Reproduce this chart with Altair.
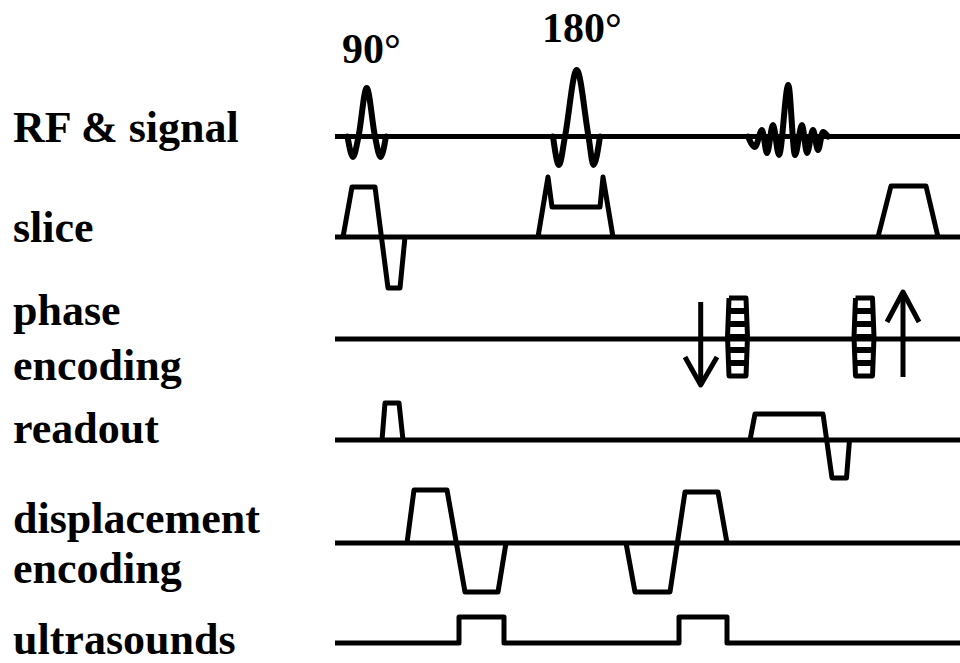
import altair as alt
import pandas as pd

W, H = 960, 663

# ---- rows (channel names and the level of each baseline) ----
row_labels = ["RF & signal", "slice", "phase", "encoding", "readout",
              "displacement", "encoding", "ultrasounds"]
row_label_y = [142, 242, 325, 380, 443, 533, 583, 654]
row_level = [136.5, 237, 339, 440, 543, 643]  # RF, slice, phase, readout, displacement, ultrasounds
baseline_start = 335
baseline_end = 960

# ---- RF & signal (time, amplitude) ----
rf90_t = [347.5, 353, 358.5, 366.7, 375, 380.5, 386]
rf90_a = [0, -20.5, 0, 48.5, 0, -20.5, 0]
rf180_t = [553, 559, 565, 576.7, 588.5, 593.5, 600]
rf180_a = [0, -28.5, 0, 66.5, 0, -28.5, 0]
echo_t = [748, 755, 762, 767, 773, 779, 788.3, 795, 802, 807, 813, 818, 823, 828]
echo_a = [0, -10.5, 6.5, -16.5, 11.5, -18.5, 51.5, -18.5, 11.5, -16.5, 6.5, -13.5, 4.5, 0]

# ---- slice gradient ----
sl1_t = [343, 352, 375, 388, 400, 405]
sl1_a = [0, 50, 50, -51, -51, 0]
sl2_t = [538, 548, 552, 600, 603, 613]
sl2_a = [0, 60, 30, 30, 60, 0]
sl3_t = [878, 891, 926, 938]
sl3_a = [0, 51, 51, 0]

# ---- phase encoding ----
tab_centres = [737.5, 864]
tab_top, tab_bottom, tab_mid = 41, -37, 2
tab_half_edge, tab_half_mid = 8.5, 10
tab_steps = 6
arr_dn_shaft_t, arr_dn_shaft_a = [700.7, 700.7], [37, -46]
arr_dn_head_t, arr_dn_head_a = [685, 700.7, 717], [-18, -46, -18]
arr_up_shaft_t, arr_up_shaft_a = [903, 903], [-38, 47]
arr_up_head_t, arr_up_head_a = [887, 903, 919], [17, 47, 17]

# ---- readout ----
ro1_t = [382, 385, 399, 403]
ro1_a = [0, 37, 37, 0]
ro2_t = [750, 755, 823, 832, 846.5, 849.5]
ro2_a = [0, 26, 26, -38, -38, 0]

# ---- displacement encoding ----
de1_t = [407, 414, 447, 465, 498, 506]
de1_a = [0, 53, 53, -49, -49, 0]
de2_t = [626, 635, 670, 685, 718, 727]
de2_a = [0, -49, -49, 51, 51, 0]

# ---- ultrasounds ----
us_t = [335, 459, 459, 504, 504, 679, 679, 727, 727, 960]
us_a = [0, 0, 26, 26, 0, 0, 26, 26, 0, 0]

# ---- pulse labels ----
flip_labels = ["90°", "180°"]
flip_t = [342, 542]
flip_y = [63, 42]

# ---------------------------------------------------------------
def seg_rows(name, row, ts, amps):
    lvl = row_level[row]
    return [{"seg": name, "i": k, "t": t, "y": lvl - a}
            for k, (t, a) in enumerate(zip(ts, amps))]

curvy = []
curvy += seg_rows("rf90", 0, rf90_t, rf90_a)
curvy += seg_rows("rf180", 0, rf180_t, rf180_a)
curvy += seg_rows("echo", 0, echo_t, echo_a)

straight = []
straight += seg_rows("sl1", 1, sl1_t, sl1_a)
straight += seg_rows("sl2", 1, sl2_t, sl2_a)
straight += seg_rows("sl3", 1, sl3_t, sl3_a)
straight += seg_rows("ro1", 3, ro1_t, ro1_a)
straight += seg_rows("ro2", 3, ro2_t, ro2_a)
straight += seg_rows("de1", 4, de1_t, de1_a)
straight += seg_rows("de2", 4, de2_t, de2_a)
straight += seg_rows("us", 5, us_t, us_a)
straight += seg_rows("adn_s", 2, arr_dn_shaft_t, arr_dn_shaft_a)
straight += seg_rows("adn_h", 2, arr_dn_head_t, arr_dn_head_a)
straight += seg_rows("aup_s", 2, arr_up_shaft_t, arr_up_shaft_a)
straight += seg_rows("aup_h", 2, arr_up_head_t, arr_up_head_a)

rungs = []
for j, c in enumerate(tab_centres):
    ot = [c - tab_half_edge, c + tab_half_edge, c + tab_half_mid, c + tab_half_edge,
          c - tab_half_edge, c - tab_half_mid, c - tab_half_edge]
    oa = [tab_top, tab_top, tab_mid, tab_bottom, tab_bottom, tab_mid, tab_top]
    straight += seg_rows(f"tab{j}", 2, ot, oa)
    for k in range(1, tab_steps):
        a = tab_top + (tab_bottom - tab_top) * k / tab_steps
        if a >= tab_mid:
            f = (tab_top - a) / (tab_top - tab_mid)
        else:
            f = (a - tab_bottom) / (tab_mid - tab_bottom)
        hw = tab_half_edge + (tab_half_mid - tab_half_edge) * f
        rungs.append({"t": c - hw, "t2": c + hw, "y": row_level[2] - a})

base = pd.DataFrame({"t": [baseline_start] * 5, "t2": [baseline_end] * 5,
                     "y": row_level[:5]})

xs = alt.Scale(domain=[0, W])
ys = alt.Scale(domain=[0, H], reverse=True)

lines_curvy = alt.Chart(pd.DataFrame(curvy)).mark_line(
    color="black", strokeWidth=6, interpolate="monotone",
    strokeJoin="round", strokeCap="round"
).encode(
    x=alt.X("t:Q", scale=xs, axis=None),
    y=alt.Y("y:Q", scale=ys, axis=None),
    detail="seg:N", order="i:Q",
)

lines_straight = alt.Chart(pd.DataFrame(straight)).mark_line(
    color="black", strokeWidth=5, strokeJoin="round", strokeCap="butt"
).encode(
    x=alt.X("t:Q", scale=xs, axis=None),
    y=alt.Y("y:Q", scale=ys, axis=None),
    detail="seg:N", order="i:Q",
)

baselines = alt.Chart(base).mark_rule(color="black", strokeWidth=5).encode(
    x=alt.X("t:Q", scale=xs, axis=None), x2="t2:Q",
    y=alt.Y("y:Q", scale=ys, axis=None),
)

rung_layer = alt.Chart(pd.DataFrame(rungs)).mark_rule(color="black", strokeWidth=6).encode(
    x=alt.X("t:Q", scale=xs, axis=None), x2="t2:Q",
    y=alt.Y("y:Q", scale=ys, axis=None),
)

labels_df = pd.DataFrame({"t": [13] * len(row_labels), "y": row_label_y, "text": row_labels})
labels = alt.Chart(labels_df).mark_text(
    font="Liberation Serif", fontWeight="bold", fontSize=44,
    align="left", baseline="alphabetic", color="black"
).encode(
    x=alt.X("t:Q", scale=xs, axis=None),
    y=alt.Y("y:Q", scale=ys, axis=None),
    text="text:N",
)

flip_df = pd.DataFrame({"t": flip_t, "y": flip_y, "text": flip_labels})
flips = alt.Chart(flip_df).mark_text(
    font="Liberation Serif", fontWeight="bold", fontSize=42,
    align="left", baseline="alphabetic", color="black"
).encode(
    x=alt.X("t:Q", scale=xs, axis=None),
    y=alt.Y("y:Q", scale=ys, axis=None),
    text="text:N",
)

chart = alt.layer(
    baselines, lines_straight, rung_layer, lines_curvy, labels, flips
).properties(
    width=W, height=H, padding=0, autosize=alt.AutoSizeParams(type="none"),
    background="white"
).configure_view(stroke=None)

chart.save("out.html", embed_options={"renderer": "svg", "actions": False})
